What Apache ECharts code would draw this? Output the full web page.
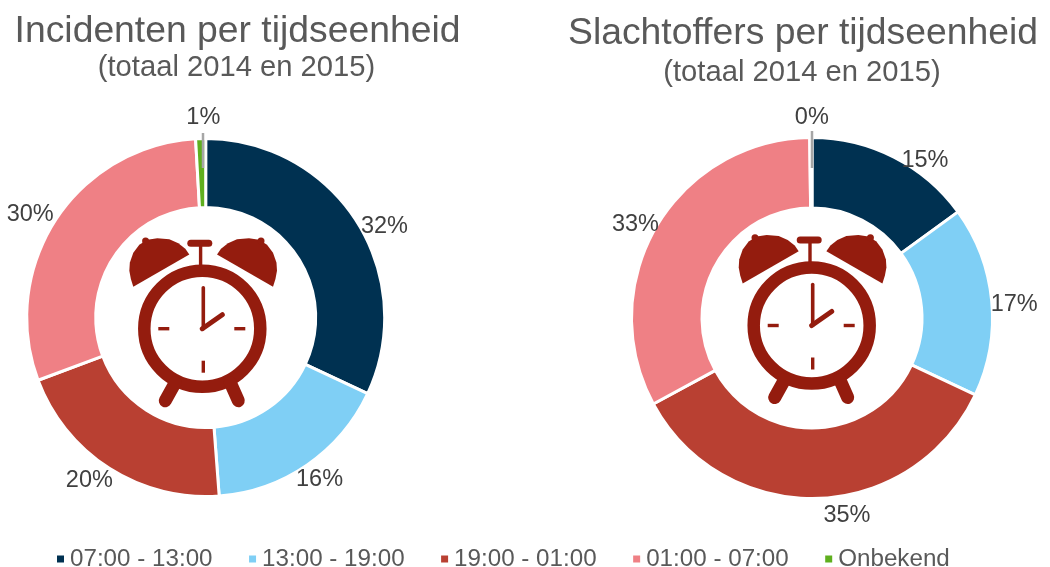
<!DOCTYPE html>
<html>
<head>
<meta charset="utf-8">
<style>
html,body{margin:0;padding:0;background:#fff;}
#main{width:1050px;height:567px;}
</style>
<script src="https://cdn.jsdelivr.net/npm/echarts@6/dist/echarts.min.js"></script>
</head>
<body>
<div id="main"></div>
<script>
// tijdvakken
var categories = ['07:00 - 13:00','13:00 - 19:00','19:00 - 01:00','01:00 - 07:00','Onbekend'];
var kleuren = ['#003151','#7FCFF5','#B94032','#EF8085','#5FAF1E'];

var incidentenWaarden = [32,16.8,20.5,29.8,0.9];
var incidentenLabels = ['32%','16%','20%','30%','1%'];
var slachtoffersWaarden = [15,17,35.1,32.7,0.2];
var slachtoffersLabels = ['15%','17%','35%','33%','0%'];

// kleine verschuiving van de labels t.o.v. de standaardplek
var incidentenShift = [[-6,11],[-18,5],[10,2],[8,1],[20,-9]];
var slachtoffersShift = [[2,14],[-13,5],[6,5],[13,4],[18,-8]];

var tekstKleur = '#595959';
var klokKleur = '#941C0E';
var lijnKleur = '#A6A6A6';
var font = '"Liberation Sans", Arial, sans-serif';

// omtrek van de linker bel, rechts is het spiegelbeeld
var belOmtrek = [[-69,-42],[-13,-74.3],[-17,-80],[-24,-85.5],[-33,-89.5],[-45,-90.5],[-55,-89],[-63,-84],[-69,-76],[-72.5,-66],[-73,-58],[-71.5,-50]];

function maakData(waarden, labels) {
    return waarden.map(function (w, i) {
        return {
            name: categories[i],
            value: w,
            itemStyle: {color: kleuren[i]},
            label: {formatter: labels[i]}
        };
    });
}

function maakRing(center, waarden, labels, straal, shift) {
    return {
        type: 'pie',
        center: center,
        radius: straal,
        startAngle: 90,
        clockwise: true,
        avoidLabelOverlap: false,
        data: maakData(waarden, labels),
        itemStyle: {borderColor: '#fff', borderWidth: 3},
        label: {
            show: true,
            position: 'outside',
            color: '#404040',
            fontFamily: font,
            fontSize: 23.5,
            distanceToLabelLine: 0
        },
        labelLine: {show: false, length: 12, length2: 0},
        labelLayout: function (params) {
            var s = shift[params.dataIndex];
            return {dx: s[0], dy: s[1]};
        },
        emphasis: {disabled: true}
    };
}

// wekker als icoon, getekend rond het midden van de wijzerplaat
function maakKlok(cx, cy) {
    var vul = {fill: klokKleur};
    var streep = function (w) {
        return {stroke: klokKleur, lineWidth: w, lineCap: 'round', fill: null};
    };
    var belRechts = belOmtrek.map(function (p) { return [1.7 - p[0], p[1]]; });
    return {
        type: 'group',
        x: cx,
        y: cy,
        silent: true,
        children: [
            {type: 'circle', shape: {cx: 0, cy: 0, r: 58}, style: {stroke: klokKleur, lineWidth: 12.5, fill: null}},
            {type: 'polygon', shape: {points: belOmtrek}, style: vul},
            {type: 'polygon', shape: {points: belRechts}, style: vul},
            {type: 'circle', shape: {cx: -56.7, cy: -87.7, r: 3.5}, style: vul},
            {type: 'circle', shape: {cx: 58.7, cy: -87.7, r: 3.5}, style: vul},
            {type: 'rect', shape: {x: -15, y: -89, width: 25, height: 7, r: 3.5}, style: vul},
            {type: 'rect', shape: {x: -3.4, y: -83, width: 3.4, height: 20}, style: vul},
            {type: 'line', shape: {x1: -27, y1: 54, x2: -37, y2: 72}, style: streep(13)},
            {type: 'line', shape: {x1: 28, y1: 54, x2: 36, y2: 72}, style: streep(13)},
            {type: 'rect', shape: {x: -44, y: -1.7, width: 11, height: 3.4}, style: vul},
            {type: 'rect', shape: {x: 32, y: -1.7, width: 11, height: 3.4}, style: vul},
            {type: 'rect', shape: {x: -0.7, y: 32, width: 3.4, height: 12}, style: vul},
            {type: 'line', shape: {x1: 1, y1: 0, x2: 1, y2: -41}, style: streep(3.6)},
            {type: 'line', shape: {x1: 0, y1: 0, x2: 20, y2: -14}, style: streep(5)}
        ]
    };
}

// hulplijntje bij het kleine segment loopt door tot in de ring
function maakHulplijn(x, y1, y2) {
    return {
        type: 'line',
        silent: true,
        z: 20,
        shape: {x1: x, y1: y1, x2: x, y2: y2},
        style: {stroke: lijnKleur, lineWidth: 2.5}
    };
}

var myChart = echarts.init(document.getElementById('main'), null, {renderer: 'canvas'});
var option = {
    animation: false,
    backgroundColor: '#fff',
    title: [
        {text: 'Incidenten per tijdseenheid', left: 232.5, top: 8, textAlign: 'center',
            textStyle: {color: tekstKleur, fontFamily: font, fontSize: 37.3, fontWeight: 'normal'}},
        {text: '(totaal 2014 en 2015)', left: 231.5, top: 48, textAlign: 'center',
            textStyle: {color: tekstKleur, fontFamily: font, fontSize: 29.2, fontWeight: 'normal'}},
        {text: 'Slachtoffers per tijdseenheid', left: 798, top: 10, textAlign: 'center',
            textStyle: {color: tekstKleur, fontFamily: font, fontSize: 37.3, fontWeight: 'normal'}},
        {text: '(totaal 2014 en 2015)', left: 797, top: 53, textAlign: 'center',
            textStyle: {color: tekstKleur, fontFamily: font, fontSize: 29.2, fontWeight: 'normal'}}
    ],
    legend: {
        data: categories,
        left: 50,
        top: 542,
        icon: 'rect',
        itemWidth: 9,
        itemHeight: 9,
        itemGap: 34.5,
        textStyle: {color: tekstKleur, fontFamily: font, fontSize: 24.2}
    },
    series: [
        maakRing([205.7,317.5], incidentenWaarden, incidentenLabels, [110,179], incidentenShift),
        maakRing([812,318], slachtoffersWaarden, slachtoffersLabels, [110,180.5], slachtoffersShift)
    ],
    graphic: [
        maakKlok(202.3,328.7),
        maakKlok(811.7,325.5),
        maakHulplijn(203,133,168),
        maakHulplijn(812,131,168)
    ]
};
myChart.setOption(option);
</script>
</body>
</html>
